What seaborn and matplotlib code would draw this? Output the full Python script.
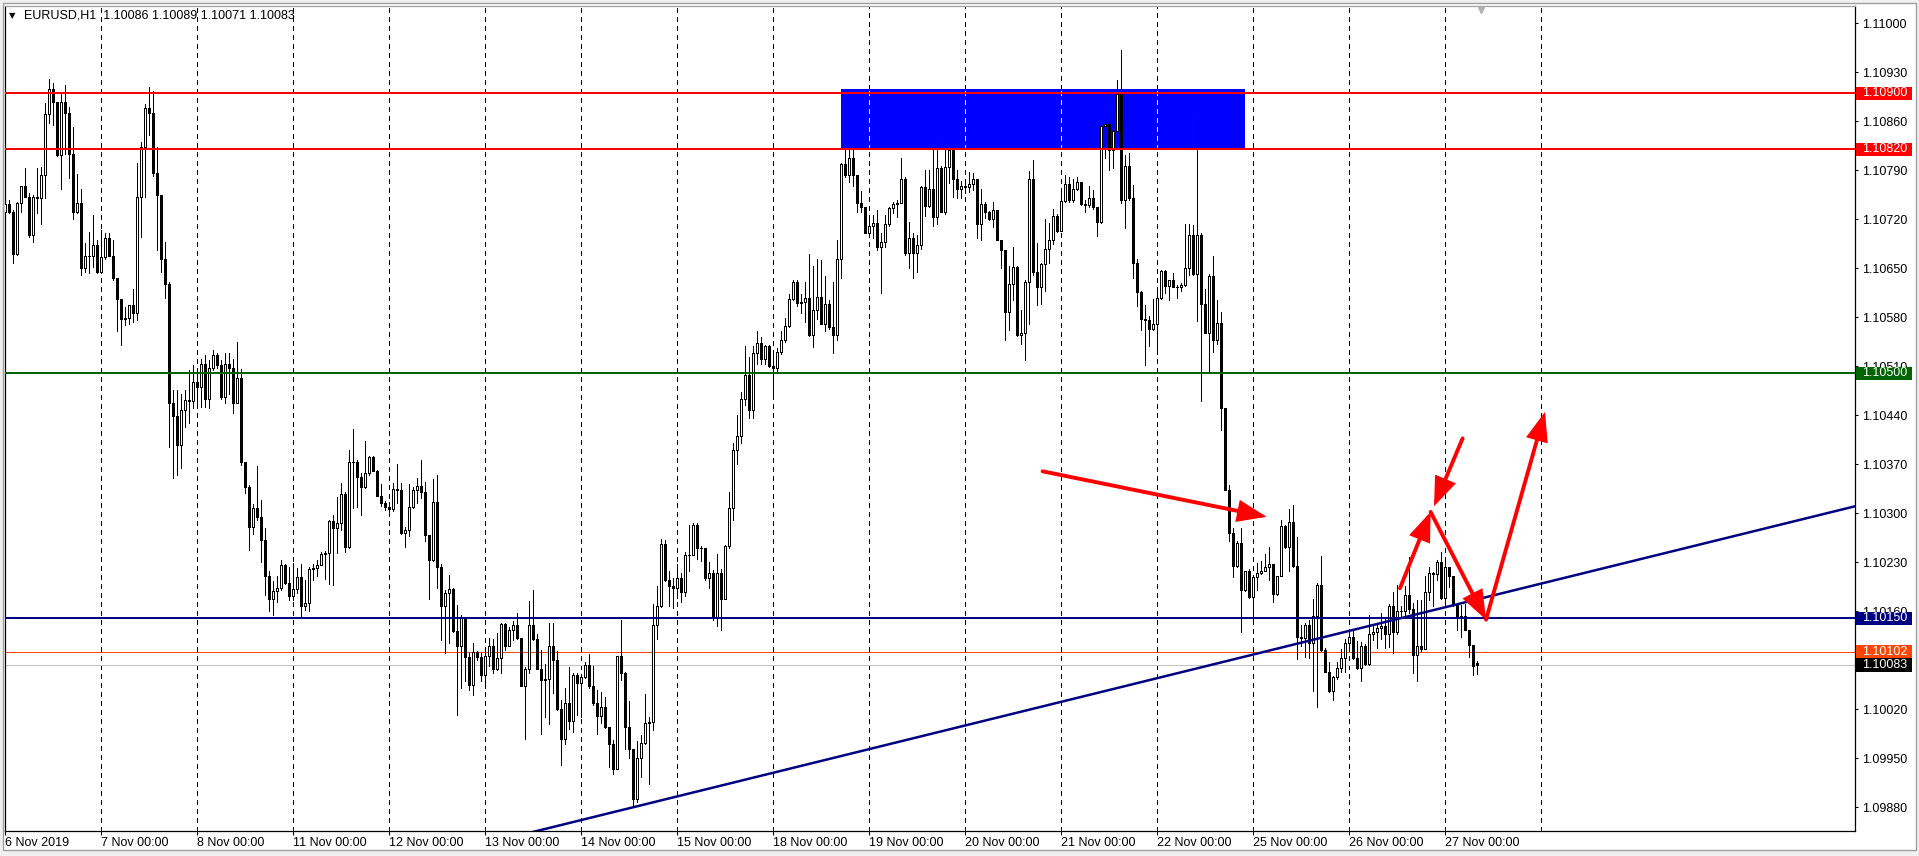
import numpy as np
import matplotlib
matplotlib.use("Agg")
import matplotlib.pyplot as plt
import seaborn as sns
from matplotlib.patches import Rectangle
from matplotlib.transforms import blended_transform_factory

# ---------------- data ----------------
symbol_text = "EURUSD,H1  1.10086 1.10089 1.10071 1.10083"
day_labels = ["6 Nov 2019", "7 Nov 00:00", "8 Nov 00:00", "11 Nov 00:00", "12 Nov 00:00",
              "13 Nov 00:00", "14 Nov 00:00", "15 Nov 00:00", "18 Nov 00:00", "19 Nov 00:00",
              "20 Nov 00:00", "21 Nov 00:00", "22 Nov 00:00", "25 Nov 00:00", "26 Nov 00:00",
              "27 Nov 00:00"]
bars_per_day = 24
first_open = 1.10731
last_open = 1.10086

close = [
    # 6 Nov
    1.10742, 1.10731, 1.10671, 1.10744, 1.10767, 1.10752, 1.10698, 1.10752, 1.10750, 1.10784, 1.10871, 1.10906,
    1.10888, 1.10812, 1.10888, 1.10872, 1.10814, 1.10730, 1.10744, 1.10651, 1.10668, 1.10667, 1.10683, 1.10645,
    # 7 Nov
    1.10666, 1.10693, 1.10668, 1.10636, 1.10606, 1.10577, 1.10579, 1.10598, 1.10586, 1.10752, 1.10823, 1.10879,
    1.10872, 1.10786, 1.10755, 1.10663, 1.10628, 1.10457, 1.10439, 1.10398, 1.10448, 1.10462, 1.10460, 1.10488,
    # 8 Nov
    1.10481, 1.10514, 1.10464, 1.10507, 1.10526, 1.10512, 1.10466, 1.10514, 1.10507, 1.10457, 1.10493, 1.10374,
    1.10338, 1.10280, 1.10307, 1.10295, 1.10262, 1.10210, 1.10177, 1.10189, 1.10194, 1.10226, 1.10201, 1.10182,
    # 11 Nov
    1.10192, 1.10209, 1.10167, 1.10172, 1.10220, 1.10222, 1.10226, 1.10242, 1.10244, 1.10289, 1.10279, 1.10286,
    1.10328, 1.10252, 1.10373, 1.10374, 1.10352, 1.10337, 1.10357, 1.10380, 1.10360, 1.10325, 1.10315, 1.10309,
    # 12 Nov
    1.10306, 1.10335, 1.10333, 1.10272, 1.10276, 1.10309, 1.10333, 1.10339, 1.10330, 1.10269, 1.10233, 1.10316,
    1.10224, 1.10167, 1.10186, 1.10192, 1.10132, 1.10111, 1.10152, 1.10095, 1.10055, 1.10102, 1.10095, 1.10069,
    # 13 Nov
    1.10096, 1.10110, 1.10078, 1.10094, 1.10142, 1.10111, 1.10134, 1.10140, 1.10122, 1.10054, 1.10078, 1.10140,
    1.10120, 1.10078, 1.10062, 1.10064, 1.10111, 1.10090, 1.10021, 1.09978, 1.10029, 1.10004, 1.10069, 1.10058,
    # 14 Nov
    1.10066, 1.10084, 1.10053, 1.10029, 1.10010, 1.10024, 1.09995, 1.09971, 1.09935, 1.10096, 1.10072, 1.09995,
    1.09964, 1.09892, 1.09950, 1.09972, 1.10000, 1.10002, 1.10141, 1.10167, 1.10256, 1.10205, 1.10196, 1.10194,
    # 15 Nov
    1.10207, 1.10187, 1.10240, 1.10241, 1.10284, 1.10251, 1.10250, 1.10207, 1.10215, 1.10150, 1.10215, 1.10178,
    1.10254, 1.10308, 1.10390, 1.10410, 1.10464, 1.10498, 1.10448, 1.10529, 1.10543, 1.10521, 1.10539, 1.10510,
    # 18 Nov
    1.10507, 1.10530, 1.10548, 1.10568, 1.10606, 1.10631, 1.10601, 1.10602, 1.10607, 1.10555, 1.10590, 1.10609,
    1.10571, 1.10599, 1.10566, 1.10555, 1.10663, 1.10799, 1.10783, 1.10807, 1.10783, 1.10744, 1.10737, 1.10701,
    # 19 Nov
    1.10710, 1.10715, 1.10681, 1.10688, 1.10714, 1.10736, 1.10742, 1.10744, 1.10777, 1.10672, 1.10694, 1.10672,
    1.10683, 1.10766, 1.10739, 1.10764, 1.10724, 1.10794, 1.10730, 1.10795, 1.10819, 1.10777, 1.10763, 1.10767,
    # 20 Nov
    1.10766, 1.10771, 1.10777, 1.10714, 1.10742, 1.10731, 1.10721, 1.10733, 1.10691, 1.10676, 1.10588, 1.10627,
    1.10652, 1.10555, 1.10558, 1.10631, 1.10777, 1.10645, 1.10623, 1.10656, 1.10677, 1.10690, 1.10725, 1.10704,
    # 21 Nov
    1.10746, 1.10771, 1.10747, 1.10764, 1.10774, 1.10742, 1.10740, 1.10750, 1.10737, 1.10716, 1.10853, 1.10856,
    1.10819, 1.10846, 1.10899, 1.10748, 1.10796, 1.10750, 1.10657, 1.10616, 1.10577, 1.10576, 1.10563, 1.10570,
    # 22 Nov
    1.10608, 1.10646, 1.10625, 1.10633, 1.10624, 1.10624, 1.10626, 1.10651, 1.10697, 1.10642, 1.10697, 1.10599,
    1.10558, 1.10639, 1.10547, 1.10572, 1.10450, 1.10333, 1.10272, 1.10225, 1.10258, 1.10190, 1.10217, 1.10180,
    # 25 Nov
    1.10209, 1.10215, 1.10218, 1.10223, 1.10228, 1.10185, 1.10211, 1.10282, 1.10252, 1.10288, 1.10225, 1.10123,
    1.10122, 1.10141, 1.10115, 1.10153, 1.10198, 1.10105, 1.10074, 1.10046, 1.10066, 1.10079, 1.10093, 1.10115,
    # 26 Nov
    1.10123, 1.10093, 1.10079, 1.10111, 1.10085, 1.10127, 1.10131, 1.10136, 1.10139, 1.10128, 1.10168, 1.10130,
    1.10160, 1.10161, 1.10183, 1.10163, 1.10098, 1.10111, 1.10106, 1.10188, 1.10215, 1.10214, 1.10230, 1.10179,
    # 27 Nov
    1.10223, 1.10210, 1.10171, 1.10150, 1.10153, 1.10133, 1.10112, 1.10082, 1.10083,
]

high = [
    1.10745, 1.10748, 1.10733, 1.10745, 1.10768, 1.10793, 1.10757, 1.10755, 1.10793, 1.10795, 1.10886, 1.10920,
    1.10915, 1.10888, 1.10902, 1.10912, 1.10881, 1.10852, 1.10785, 1.10764, 1.10686, 1.10702, 1.10726, 1.10690,
    1.10705, 1.10700, 1.10700, 1.10690, 1.10636, 1.10606, 1.10595, 1.10598, 1.10620, 1.10800, 1.10831, 1.10885,
    1.10909, 1.10904, 1.10824, 1.10755, 1.10687, 1.10631, 1.10476, 1.10476, 1.10471, 1.10476, 1.10505, 1.10512,
    1.10505, 1.10520, 1.10526, 1.10519, 1.10534, 1.10529, 1.10519, 1.10529, 1.10529, 1.10521, 1.10545, 1.10506,
    1.10373, 1.10340, 1.10314, 1.10367, 1.10319, 1.10279, 1.10218, 1.10204, 1.10210, 1.10234, 1.10228, 1.10224,
    1.10229, 1.10222, 1.10228, 1.10205, 1.10224, 1.10228, 1.10233, 1.10245, 1.10246, 1.10290, 1.10298, 1.10324,
    1.10344, 1.10330, 1.10391, 1.10421, 1.10376, 1.10358, 1.10403, 1.10382, 1.10382, 1.10362, 1.10342, 1.10317,
    1.10316, 1.10343, 1.10371, 1.10343, 1.10281, 1.10342, 1.10338, 1.10350, 1.10376, 1.10345, 1.10269, 1.10349,
    1.10355, 1.10228, 1.10190, 1.10212, 1.10194, 1.10169, 1.10155, 1.10152, 1.10100, 1.10115, 1.10103, 1.10100,
    1.10105, 1.10122, 1.10121, 1.10129, 1.10143, 1.10143, 1.10138, 1.10146, 1.10157, 1.10122, 1.10081, 1.10175,
    1.10191, 1.10127, 1.10105, 1.10085, 1.10143, 1.10143, 1.10103, 1.10033, 1.10050, 1.10080, 1.10072, 1.10072,
    1.10071, 1.10088, 1.10099, 1.10082, 1.10047, 1.10045, 1.10037, 1.09995, 1.09976, 1.10096, 1.10148, 1.10073,
    1.10032, 1.09964, 1.09975, 1.09984, 1.10042, 1.10009, 1.10170, 1.10196, 1.10264, 1.10262, 1.10218, 1.10207,
    1.10227, 1.10215, 1.10245, 1.10283, 1.10286, 1.10286, 1.10254, 1.10249, 1.10230, 1.10219, 1.10242, 1.10220,
    1.10255, 1.10330, 1.10400, 1.10440, 1.10474, 1.10539, 1.10524, 1.10539, 1.10560, 1.10552, 1.10540, 1.10540,
    1.10533, 1.10536, 1.10560, 1.10579, 1.10614, 1.10633, 1.10633, 1.10614, 1.10631, 1.10670, 1.10653, 1.10663,
    1.10662, 1.10639, 1.10605, 1.10630, 1.10690, 1.10801, 1.10891, 1.10821, 1.10822, 1.10784, 1.10760, 1.10737,
    1.10724, 1.10726, 1.10733, 1.10700, 1.10726, 1.10738, 1.10745, 1.10748, 1.10807, 1.10781, 1.10716, 1.10700,
    1.10698, 1.10768, 1.10791, 1.10791, 1.10820, 1.10831, 1.10796, 1.10822, 1.10821, 1.10821, 1.10791, 1.10775,
    1.10774, 1.10788, 1.10786, 1.10777, 1.10764, 1.10745, 1.10732, 1.10745, 1.10733, 1.10691, 1.10676, 1.10654,
    1.10681, 1.10653, 1.10591, 1.10633, 1.10789, 1.10805, 1.10686, 1.10658, 1.10720, 1.10715, 1.10735, 1.10728,
    1.10762, 1.10783, 1.10780, 1.10778, 1.10780, 1.10774, 1.10748, 1.10767, 1.10762, 1.10736, 1.10855, 1.10883,
    1.10862, 1.10876, 1.10919, 1.10962, 1.10812, 1.10815, 1.10769, 1.10664, 1.10618, 1.10597, 1.10582, 1.10606,
    1.10622, 1.10648, 1.10648, 1.10634, 1.10643, 1.10626, 1.10629, 1.10714, 1.10714, 1.10712, 1.10867, 1.10701,
    1.10621, 1.10642, 1.10668, 1.10605, 1.10588, 1.10450, 1.10341, 1.10279, 1.10260, 1.10279, 1.10218, 1.10220,
    1.10210, 1.10229, 1.10232, 1.10242, 1.10252, 1.10228, 1.10211, 1.10290, 1.10283, 1.10306, 1.10312, 1.10266,
    1.10141, 1.10144, 1.10147, 1.10177, 1.10200, 1.10239, 1.10107, 1.10087, 1.10068, 1.10088, 1.10106, 1.10121,
    1.10128, 1.10133, 1.10118, 1.10116, 1.10114, 1.10155, 1.10141, 1.10144, 1.10157, 1.10150, 1.10171, 1.10188,
    1.10198, 1.10167, 1.10196, 1.10238, 1.10172, 1.10176, 1.10176, 1.10210, 1.10224, 1.10216, 1.10233, 1.10245,
    1.10236, 1.10224, 1.10210, 1.10170, 1.10169, 1.10171, 1.10133, 1.10112, 1.10089,
]

low = [
    1.10714, 1.10729, 1.10658, 1.10669, 1.10731, 1.10752, 1.10695, 1.10688, 1.10729, 1.10714, 1.10751, 1.10857,
    1.10855, 1.10810, 1.10764, 1.10814, 1.10779, 1.10720, 1.10729, 1.10640, 1.10645, 1.10643, 1.10652, 1.10643,
    1.10643, 1.10664, 1.10667, 1.10633, 1.10560, 1.10540, 1.10569, 1.10571, 1.10574, 1.10576, 1.10695, 1.10752,
    1.10840, 1.10782, 1.10676, 1.10645, 1.10607, 1.10395, 1.10350, 1.10355, 1.10365, 1.10424, 1.10429, 1.10450,
    1.10452, 1.10452, 1.10452, 1.10450, 1.10505, 1.10507, 1.10464, 1.10457, 1.10471, 1.10443, 1.10471, 1.10369,
    1.10329, 1.10248, 1.10271, 1.10290, 1.10231, 1.10183, 1.10160, 1.10155, 1.10174, 1.10190, 1.10199, 1.10176,
    1.10176, 1.10186, 1.10153, 1.10162, 1.10160, 1.10205, 1.10210, 1.10226, 1.10206, 1.10199, 1.10198, 1.10244,
    1.10276, 1.10245, 1.10251, 1.10307, 1.10309, 1.10298, 1.10336, 1.10355, 1.10360, 1.10325, 1.10310, 1.10305,
    1.10300, 1.10304, 1.10315, 1.10271, 1.10252, 1.10267, 1.10307, 1.10315, 1.10322, 1.10260, 1.10177, 1.10232,
    1.10193, 1.10119, 1.10100, 1.10115, 1.10130, 1.10012, 1.10050, 1.10060, 1.10047, 1.10041, 1.10090, 1.10060,
    1.10050, 1.10082, 1.10072, 1.10076, 1.10072, 1.10105, 1.10110, 1.10119, 1.10121, 1.10054, 1.09978, 1.10072,
    1.10119, 1.10077, 1.09985, 1.10009, 1.09999, 1.10043, 1.10019, 1.09941, 1.09970, 1.09992, 1.09988, 1.10012,
    1.10009, 1.10065, 1.10051, 1.10026, 1.09985, 1.10000, 1.09994, 1.09938, 1.09928, 1.09935, 1.10062, 1.09964,
    1.09950, 1.09880, 1.09888, 1.09924, 1.09971, 1.09914, 1.09990, 1.10121, 1.10166, 1.10204, 1.10167, 1.10165,
    1.10179, 1.10174, 1.10182, 1.10217, 1.10240, 1.10235, 1.10232, 1.10205, 1.10194, 1.10148, 1.10139, 1.10134,
    1.10177, 1.10250, 1.10290, 1.10370, 1.10400, 1.10455, 1.10436, 1.10436, 1.10514, 1.10514, 1.10514, 1.10509,
    1.10471, 1.10502, 1.10527, 1.10545, 1.10566, 1.10605, 1.10596, 1.10586, 1.10574, 1.10553, 1.10538, 1.10577,
    1.10570, 1.10560, 1.10564, 1.10529, 1.10547, 1.10636, 1.10780, 1.10774, 1.10768, 1.10731, 1.10731, 1.10701,
    1.10697, 1.10693, 1.10676, 1.10615, 1.10681, 1.10710, 1.10729, 1.10724, 1.10743, 1.10669, 1.10650, 1.10636,
    1.10645, 1.10677, 1.10725, 1.10738, 1.10710, 1.10713, 1.10730, 1.10728, 1.10772, 1.10752, 1.10751, 1.10751,
    1.10757, 1.10759, 1.10762, 1.10694, 1.10691, 1.10722, 1.10719, 1.10709, 1.10691, 1.10650, 1.10548, 1.10562,
    1.10605, 1.10553, 1.10542, 1.10519, 1.10570, 1.10640, 1.10598, 1.10599, 1.10618, 1.10658, 1.10685, 1.10702,
    1.10705, 1.10745, 1.10745, 1.10745, 1.10762, 1.10740, 1.10731, 1.10738, 1.10735, 1.10696, 1.10715, 1.10807,
    1.10791, 1.10794, 1.10838, 1.10744, 1.10707, 1.10748, 1.10636, 1.10596, 1.10562, 1.10512, 1.10539, 1.10562,
    1.10531, 1.10606, 1.10615, 1.10605, 1.10623, 1.10608, 1.10618, 1.10625, 1.10640, 1.10640, 1.10575, 1.10460,
    1.10557, 1.10504, 1.10531, 1.10542, 1.10419, 1.10333, 1.10261, 1.10209, 1.10223, 1.10130, 1.10189, 1.10179,
    1.10142, 1.10190, 1.10213, 1.10218, 1.10205, 1.10174, 1.10184, 1.10210, 1.10250, 1.10217, 1.10224, 1.10092,
    1.10110, 1.10095, 1.10094, 1.10046, 1.10024, 1.10104, 1.10073, 1.10045, 1.10034, 1.10064, 1.10074, 1.10074,
    1.10110, 1.10092, 1.10078, 1.10061, 1.10084, 1.10084, 1.10119, 1.10108, 1.10121, 1.10108, 1.10109, 1.10101,
    1.10128, 1.10150, 1.10152, 1.10157, 1.10072, 1.10060, 1.10104, 1.10106, 1.10176, 1.10167, 1.10205, 1.10177,
    1.10167, 1.10195, 1.10167, 1.10133, 1.10123, 1.10133, 1.10095, 1.10069, 1.10071,
]

level_prices = [1.10900, 1.10820, 1.10500, 1.10150]
level_colors = ["#FF0000", "#FF0000", "#006400", "#000080"]
ask_price, ask_color = 1.10102, "#FF4500"
bid_price, bid_color = 1.10083, "#C0C0C0"
box_prices = [1.10900, 1.10820, 1.10500, 1.10150, 1.10102, 1.10083]
box_colors = ["#FF0000", "#FF0000", "#006400", "#000080", "#FF4500", "#000000"]
y_ticks = [1.09880, 1.09950, 1.10020, 1.10090, 1.10160, 1.10230, 1.10300, 1.10370, 1.10440,
           1.10510, 1.10580, 1.10650, 1.10720, 1.10790, 1.10860, 1.10930, 1.11000]

zone_bars = [209, 310]
zone_prices = [1.10820, 1.10906]
trend_bars = [157, 368]
trend_prices = [1.09880, 1.10177]
# red arrowed lines: (start bar, start price, end bar, end price)
arrow_lines = [
    (259.4, 1.10360, 315.4, 1.10295),
    (348.75, 1.10193, 356.4, 1.10302),
    (356.4, 1.10302, 370.25, 1.10148),
    (370.25, 1.10148, 385.0, 1.10445),
    (364.4, 1.10407, 357.25, 1.10310),
]

# ---------------- style ----------------
sns.set_theme(style="white")
plt.rcParams["font.family"] = ["Liberation Sans", "DejaVu Sans"]

W, H = 1919, 856
PX = 0.72  # one pixel in points at 100 dpi
fig = plt.figure(figsize=(W / 100, H / 100), dpi=100)
fig.patch.set_facecolor("#F0F0F0")
fig.add_artist(Rectangle((3 / W, 6 / H), 1913 / W, 847 / H, transform=fig.transFigure,
                         facecolor="white", edgecolor="#A0A0A0", lw=1, zorder=-10))

ax_l, ax_r, ax_t, ax_b = 5, 1855, 6, 831
ax = fig.add_axes([ax_l / W, 1 - ax_b / H, (ax_r - ax_l) / W, (ax_b - ax_t) / H])
ax.set_facecolor("white")
px_per_bar = 4.0
px_per_price = 70000.0
x_max = (ax_r - ax_l) / px_per_bar
y_top = 1.11000 + (23.3 - ax_t) / px_per_price
y_bot = 1.11000 - (ax_b - 23.3) / px_per_price
ax.set_xlim(0, x_max)
ax.set_ylim(y_bot, y_top)

n = len(close)
assert len(high) == n and len(low) == n
x = np.arange(n)
c = np.array(close)
o = np.r_[first_open, c[:-1]]
o[-1] = last_open
hi = np.array(high)
lo = np.array(low)

# zone rectangle
ax.add_patch(Rectangle((zone_bars[0], zone_prices[0]), zone_bars[1] - zone_bars[0],
                       zone_prices[1] - zone_prices[0], facecolor="#0000FF",
                       edgecolor="none", zorder=0.5))

# day grid (dotted), yellow where it crosses the zone
grid_bars = [bars_per_day * k for k in range(1, len(day_labels) + 1)]
dash = (0, (4.2, 4.2))
for gb in grid_bars:
    if zone_bars[0] < gb < zone_bars[1]:
        segs = [(y_bot, zone_prices[0], "black"), (zone_prices[1], y_top, "black"),
                (zone_prices[0], zone_prices[1], "#FFFF00")]
    else:
        segs = [(y_bot, y_top, "black")]
    for y0, y1, col in segs:
        ax.vlines(gb, y0, y1, colors=col, linestyles=dash, lw=PX, zorder=1, antialiased=False)

# bid / ask lines
ax.axhline(ask_price, color=ask_color, lw=PX, zorder=2)
ax.axhline(bid_price, color=bid_color, lw=PX, zorder=2)

# candles
ax.vlines(x, lo, hi, colors="black", lw=PX, zorder=3, antialiased=False)
bull = c >= o
ax.bar(x[bull], (c - o)[bull], bottom=o[bull], width=0.6, color="white", edgecolor="black",
       linewidth=PX, zorder=4, antialiased=False)
ax.bar(x[~bull], (o - c)[~bull], bottom=c[~bull], width=0.6, color="black", edgecolor="black",
       linewidth=PX, zorder=4, antialiased=False)

# horizontal levels
for p, col in zip(level_prices, level_colors):
    ax.axhline(p, color=col, lw=2 * PX, zorder=5)

# trend line (ray through two anchors)
slope = (trend_prices[1] - trend_prices[0]) / (trend_bars[1] - trend_bars[0])
tx = np.array([-20.0, x_max + 20])
ty = trend_prices[0] + slope * (tx - trend_bars[0])
sns.lineplot(x=tx, y=ty, ax=ax, color="#000080", lw=1.8, zorder=6, legend=False)

# red arrows
for (x0, y0, x1, y1) in arrow_lines:
    ax.annotate("", xy=(x1, y1), xytext=(x0, y0),
                arrowprops=dict(arrowstyle="-|>,head_length=1.0,head_width=0.38",
                                color="#FF0000", lw=2.8, mutation_scale=16,
                                shrinkA=0, shrinkB=0, joinstyle="miter"),
                zorder=7)

# axes styling
for side in ["left", "right", "bottom"]:
    ax.spines[side].set_color("black")
    ax.spines[side].set_linewidth(0.9)
ax.spines["top"].set_color("#A0A0A0")
ax.spines["top"].set_linewidth(0.9)

ax.yaxis.tick_right()
ax.set_yticks(y_ticks)
ax.set_yticklabels([f"{v:.5f}" for v in y_ticks])
ax.tick_params(axis="y", which="both", right=True, left=False, direction="out", length=2.5,
               width=0.75, pad=2.8, labelsize=9, colors="black")
ax.set_xticks([bars_per_day * k for k in range(len(day_labels))])
ax.set_xticklabels(day_labels, ha="left")
ax.tick_params(axis="x", bottom=True, direction="out", length=3, width=0.75, pad=1.5,
               labelsize=9, colors="black")
ax.grid(False)

# price boxes on the right scale
trans = blended_transform_factory(ax.transAxes, ax.transData)
bx0 = (1856 - ax_l) / (ax_r - ax_l)
bw = (1912 - 1856) / (ax_r - ax_l)
bh = 13.5 / px_per_price
tx0 = (1862 - ax_l) / (ax_r - ax_l)
for p, col in zip(box_prices, box_colors):
    ax.add_patch(Rectangle((bx0, p - bh / 2), bw, bh, transform=trans, clip_on=False,
                           facecolor=col, edgecolor="none", zorder=20))
    ax.text(tx0, p, f"{p:.5f}", transform=trans, color="white", fontsize=9, va="center",
            ha="left", clip_on=False, zorder=21)

# chart shift marker
ax.plot([369], [y_top - 4 / px_per_price], marker="v", color="#B4B4B4", ms=5, clip_on=False,
        zorder=8, ls="none")

# header text
fig.text(9 / W, 1 - 16 / H, "\u25BC", fontsize=6, family="DejaVu Sans", va="center",
         ha="left", color="black")
fig.text(24 / W, 1 - 16 / H, symbol_text, fontsize=9, va="center", ha="left", color="black")

fig.savefig("out.png", dpi=100)
